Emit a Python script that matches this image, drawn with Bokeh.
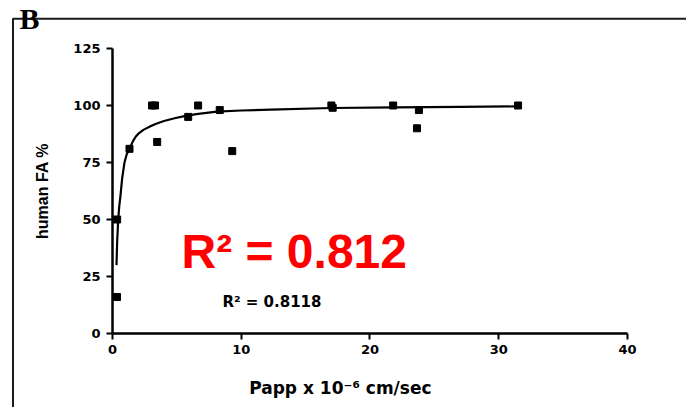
from bokeh.plotting import figure
from bokeh.models import Range1d, FixedTicker, Label, ColumnDataSource, LinearAxis
from bokeh.embed import file_html
from bokeh.resources import INLINE

# measured data points (Papp x 1e-6 cm/sec, human FA %)
papp = [0.35, 0.36, 1.32, 3.07, 3.3, 3.47, 5.88, 6.65, 8.33, 9.3, 17.0, 17.1, 21.8, 23.65, 23.8, 31.5]
fa = [16, 50, 81, 100, 100, 84, 95, 100, 98, 80, 100, 99, 100, 90, 98, 100]

# fitted curve
curve_x = [0.31, 0.36, 0.44, 0.52, 0.62, 0.75, 0.93, 1.1, 1.32, 1.6, 1.8, 2.04, 2.4, 2.95, 3.34,
           4.0, 4.9, 5.5, 6.5, 8.1, 10, 12.3, 17, 22, 27, 31.5]
curve_y = [30, 40, 49.6, 55.5, 60.5, 68, 75, 78.5, 81, 84.5, 86.3, 87.8, 89.3, 90.9, 91.9,
           93.2, 94.5, 95.2, 96.2, 97.3, 97.8, 98.2, 98.9, 99.2, 99.4, 99.6]

x_ticks = [0, 10, 20, 30, 40]
y_ticks = [0, 25, 50, 75, 100, 125]

# the frame covers the whole canvas; axes are pinned at the data origin
p = figure(width=686, height=407, output_backend="svg", toolbar_location=None,
           x_range=Range1d(-8.699, 44.583), y_range=Range1d(-32.456, 146.05),
           x_axis_type=None, y_axis_type=None,
           min_border=0, min_border_left=0, min_border_right=0,
           min_border_top=0, min_border_bottom=0)
p.outline_line_color = None
p.background_fill_color = "white"
p.border_fill_color = "white"

xaxis = LinearAxis(fixed_location=0, bounds=(0, 40))
yaxis = LinearAxis(fixed_location=0, bounds=(0, 125))
p.add_layout(xaxis, "below")
p.add_layout(yaxis, "left")

for ax, ticks in ((xaxis, x_ticks), (yaxis, y_ticks)):
    ax.ticker = FixedTicker(ticks=ticks)
    ax.axis_line_width = 2.5
    ax.axis_line_color = "black"
    ax.major_tick_line_width = 2
    ax.major_tick_line_color = "black"
    ax.major_tick_out = 6
    ax.major_tick_in = 0
    ax.minor_tick_line_color = None
    ax.major_label_text_font = "DejaVu Sans"
    ax.major_label_text_font_style = "bold"
    ax.major_label_text_font_size = "13px"
    ax.major_label_text_color = "black"
    ax.major_label_standoff = 6

yaxis.axis_label = "human FA %"
yaxis.axis_label_text_font = "Liberation Sans"
yaxis.axis_label_text_font_style = "bold"
yaxis.axis_label_text_font_size = "16px"
yaxis.axis_label_text_color = "black"
yaxis.axis_label_standoff = 19

curve = ColumnDataSource(dict(x=curve_x, y=curve_y))
pts = ColumnDataSource(dict(x=papp, y=fa))
p.line("x", "y", source=curve, line_width=2.2, line_color="black")
p.scatter("x", "y", source=pts, marker="square", size=7, fill_color="black", line_color="black")

# x-axis title
p.add_layout(Label(x=17.7, y=-23.7, text="Papp x 10\u207b\u2076 cm/sec", text_align="center",
                   text_baseline="middle", text_font="DejaVu Sans", text_font_style="bold",
                   text_font_size="17px", text_color="black"))

# R^2 annotations
p.add_layout(Label(x=5.36, y=35.9, text="R\u00b2 = 0.812", text_align="left",
                   text_baseline="alphabetic", text_font="Liberation Sans", text_font_style="bold",
                   text_font_size="48px", text_color="#ff0000"))
p.add_layout(Label(x=8.54, y=14.0, text="R\u00b2 = 0.8118", text_align="left",
                   text_baseline="alphabetic", text_font="DejaVu Sans", text_font_style="bold",
                   text_font_size="15px", text_color="black"))

# panel letter and frame lines
p.add_layout(Label(x=-7.22, y=138.2, text="B", text_align="left", text_baseline="alphabetic",
                   text_font="Liberation Serif", text_font_style="bold", text_font_size="30px",
                   text_color="black"))
frame_x = [-7.73, -7.73, 50]
frame_y = [-40, 138.0, 138.0]
p.line(frame_x, frame_y, line_width=2, line_color="#1a1a1a")

open("out.html", "w").write(file_html(p, INLINE))
